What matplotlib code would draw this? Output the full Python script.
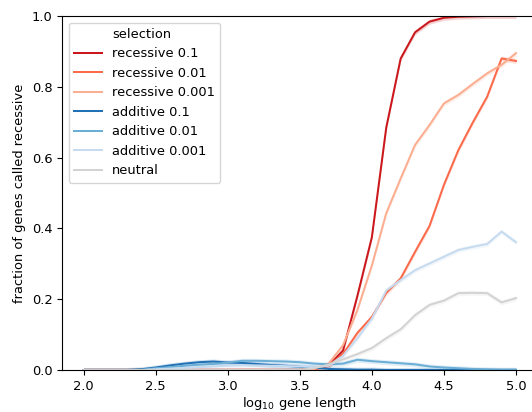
import numpy as np
import matplotlib.pyplot as plt
from matplotlib.lines import Line2D

plt.rcParams["font.size"] = 9.4

# gene length grid, log10 units
log_length = np.round(np.linspace(2.0, 5.0, 31), 1)

zeros_to_35 = [0.0] * 16  # 2.0 .. 3.5

rec_01 = zeros_to_35 + [0.002, 0.012, 0.055, 0.21, 0.375, 0.685, 0.88, 0.954,
                        0.984, 0.995, 0.998, 0.999, 1.0, 1.0, 1.0]
rec_001 = zeros_to_35 + [0.002, 0.012, 0.045, 0.105, 0.15, 0.218, 0.259, 0.334,
                         0.407, 0.523, 0.621, 0.699, 0.772, 0.88, 0.873]
rec_0001 = zeros_to_35 + [0.003, 0.018, 0.07, 0.17, 0.295, 0.443, 0.541, 0.636,
                          0.692, 0.753, 0.777, 0.808, 0.838, 0.862, 0.895]
add_01 = [0, 0, 0, 0, 0.002, 0.007, 0.013, 0.018, 0.022, 0.024, 0.021, 0.02,
          0.017, 0.014, 0.012, 0.009, 0.007, 0.003, 0.002, 0.001, 0.001, 0.0,
          0.0, 0.0, 0.0, 0.0, 0.0, 0.0, 0.0, 0.0, 0.0]
add_001 = [0, 0, 0, 0, 0, 0.005, 0.008, 0.012, 0.015, 0.017, 0.021, 0.026,
           0.026, 0.025, 0.024, 0.022, 0.018, 0.016, 0.018, 0.029, 0.025, 0.022,
           0.019, 0.016, 0.01, 0.007, 0.005, 0.003, 0.002, 0.001, 0.001]
add_0001 = [0, 0, 0, 0, 0, 0.002, 0.004, 0.006, 0.008, 0.01, 0.012, 0.013,
            0.013, 0.012, 0.011, 0.01, 0.008, 0.012, 0.04, 0.09, 0.145, 0.225,
            0.254, 0.282, 0.301, 0.32, 0.339, 0.348, 0.356, 0.391, 0.361]
neutral = zeros_to_35 + [0.005, 0.015, 0.03, 0.045, 0.062, 0.09, 0.115, 0.155,
                         0.184, 0.196, 0.217, 0.218, 0.217, 0.191, 0.203]

labels = ["recessive 0.1", "recessive 0.01", "recessive 0.001",
          "additive 0.1", "additive 0.01", "additive 0.001", "neutral"]
series = [rec_01, rec_001, rec_0001, add_01, add_001, add_0001, neutral]
colors = ["#cb181d", "#fb6a4a", "#fcae91",
          "#2171b5", "#6baed6", "#c6dbef", "#d3d3d3"]

fig = plt.figure(figsize=(5.32, 4.12), dpi=100)
ax = fig.add_axes([62 / 532, 42 / 412, 475.6 / 532, 354 / 412])

handles = [Line2D([], [], linestyle="none")]
legend_labels = ["selection"]
for lab, vals, col in zip(labels, series, colors):
    vals = np.array(vals)
    ax.fill_between(log_length, np.clip(vals - 0.007, 0, 1),
                    np.clip(vals + 0.007, 0, 1), color=col, alpha=0.2, lw=0)
    line, = ax.plot(log_length, vals, color=col, lw=1.45)
    handles.append(line)
    legend_labels.append(lab)

ax.set_xlim(1.85, 5.15)
ax.set_ylim(0, 1)
ax.set_xticks([2.0, 2.5, 3.0, 3.5, 4.0, 4.5, 5.0])
ax.set_xlabel("log$_{10}$ gene length", labelpad=2)
ax.set_ylabel("fraction of genes called recessive")
ax.spines["right"].set_visible(False)

ax.legend(handles, legend_labels, loc="upper left", handlelength=2.15)

fig.savefig("out.png", dpi=100)
